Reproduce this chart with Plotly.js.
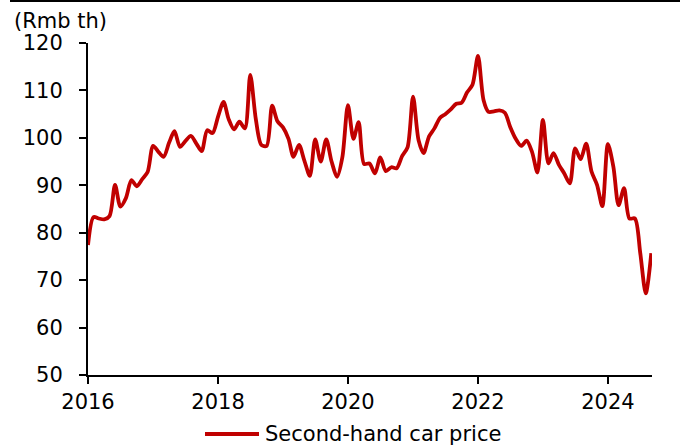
<!DOCTYPE html>
<html>
<head>
<meta charset="utf-8">
<script src="https://cdn.plot.ly/plotly-3.0.1.min.js"></script>
<style>
  html, body { margin: 0; padding: 0; background: #fff; }
  #chart { width: 680px; height: 448px; }
</style>
</head>
<body>
<div id="chart"></div>
<script>
// Monthly second-hand car price (Rmb th), Jan 2016 - Sep 2024
var startYear = 2016;
var v2016 = [77.4, 83.3, 83.0, 82.8, 83.5, 90.1, 85.5, 87.3, 91.1, 89.8, 91.3, 92.8];
var v2017 = [98.3, 97.0, 96.0, 99.0, 101.4, 98.1, 99.3, 100.4, 98.8, 97.2, 101.6, 101.0];
var v2018 = [104.5, 107.6, 104.0, 101.8, 103.4, 102.0, 113.3, 104.0, 98.5, 98.3, 106.8, 103.5];
var v2019 = [102.2, 99.8, 96.0, 98.5, 95.2, 92.0, 99.7, 95.0, 99.7, 95.0, 91.8, 96.0];
var v2020 = [106.9, 99.8, 103.3, 94.5, 94.6, 92.5, 95.9, 93.0, 93.8, 93.6, 96.2, 98.0];
var v2021 = [108.7, 99.5, 96.8, 100.3, 102.0, 104.2, 105.0, 106.0, 107.2, 107.4, 109.6, 111.2];
var v2022 = [117.3, 108.0, 105.5, 105.6, 105.8, 105.3, 102.3, 99.8, 98.3, 99.4, 97.0, 92.7];
var v2023 = [103.8, 94.6, 96.8, 94.3, 92.5, 90.4, 97.8, 95.5, 98.8, 92.9, 90.1, 85.6];
var v2024 = [98.7, 93.9, 85.8, 89.4, 83.0, 83.0, 75.7, 67.2, 75.7];

var seriesName = 'Second-hand car price';
var unitLabel = '(Rmb th)';
var xTickLabels = ['2016', '2018', '2020', '2022', '2024'];
var yTickValues = [50, 60, 70, 80, 90, 100, 110, 120];

var values = [].concat(v2016, v2017, v2018, v2019, v2020, v2021, v2022, v2023, v2024);
var dates = values.map(function (_, i) {
  var y = startYear + Math.floor(i / 12);
  var m = (i % 12) + 1;
  return y + '-' + (m < 10 ? '0' + m : m) + '-01';
});
var xTickVals = xTickLabels.map(function (t) { return t + '-01-01'; });

var FONT = 'DejaVu Sans, Liberation Sans, Arial, sans-serif';
var FS = 21;
var RED = '#C00000';

var trace = {
  x: dates,
  y: values,
  type: 'scatter',
  mode: 'lines',
  name: seriesName,
  line: { color: RED, width: 3.8, shape: 'spline', smoothing: 0.8 },
  showlegend: false,
  hoverinfo: 'skip'
};

var layout = {
  width: 680,
  height: 448,
  margin: { l: 88, r: 28, t: 43, b: 73, pad: 0 },
  paper_bgcolor: '#ffffff',
  plot_bgcolor: '#ffffff',
  font: { family: FONT, size: FS, color: '#000000' },
  xaxis: {
    type: 'date',
    range: ['2016-01-01', '2024-09-05'],
    tickvals: xTickVals,
    ticktext: xTickLabels,
    ticks: 'outside',
    ticklen: 7,
    tickwidth: 2,
    tickcolor: '#000000',
    showline: true,
    linewidth: 2,
    linecolor: '#000000',
    showgrid: false,
    zeroline: false,
    tickfont: { family: FONT, size: FS, color: '#000000' },
    fixedrange: true
  },
  yaxis: {
    range: [50, 120],
    tickvals: yTickValues,
    ticks: 'outside',
    ticklen: 7,
    tickwidth: 2,
    tickcolor: '#000000',
    showline: true,
    linewidth: 2,
    linecolor: '#000000',
    showgrid: false,
    zeroline: false,
    ticklabelstandoff: 12,
    tickfont: { family: FONT, size: FS, color: '#000000' },
    fixedrange: true
  },
  shapes: [
    { type: 'line', xref: 'paper', yref: 'paper',
      x0: (10 - 88) / 564, x1: (680 - 88) / 564,
      y0: (375 - 1) / 332, y1: (375 - 1) / 332,
      line: { color: '#000000', width: 2 } },
    { type: 'line', xref: 'paper', yref: 'paper',
      x0: (205 - 88) / 564, x1: (259 - 88) / 564,
      y0: (375 - 434) / 332, y1: (375 - 434) / 332,
      line: { color: RED, width: 3.8 } }
  ],
  annotations: [
    { xref: 'paper', yref: 'paper',
      x: (12 - 88) / 564, y: (375 - 21) / 332,
      xanchor: 'left', yanchor: 'middle', showarrow: false,
      text: unitLabel, font: { family: FONT, size: FS, color: '#000000' } },
    { xref: 'paper', yref: 'paper',
      x: (263 - 88) / 564, y: (375 - 434) / 332,
      xanchor: 'left', yanchor: 'middle', showarrow: false,
      text: seriesName, font: { family: FONT, size: FS, color: '#000000' } }
  ]
};

Plotly.newPlot('chart', [trace], layout, { staticPlot: true, displayModeBar: false });
</script>
</body>
</html>
